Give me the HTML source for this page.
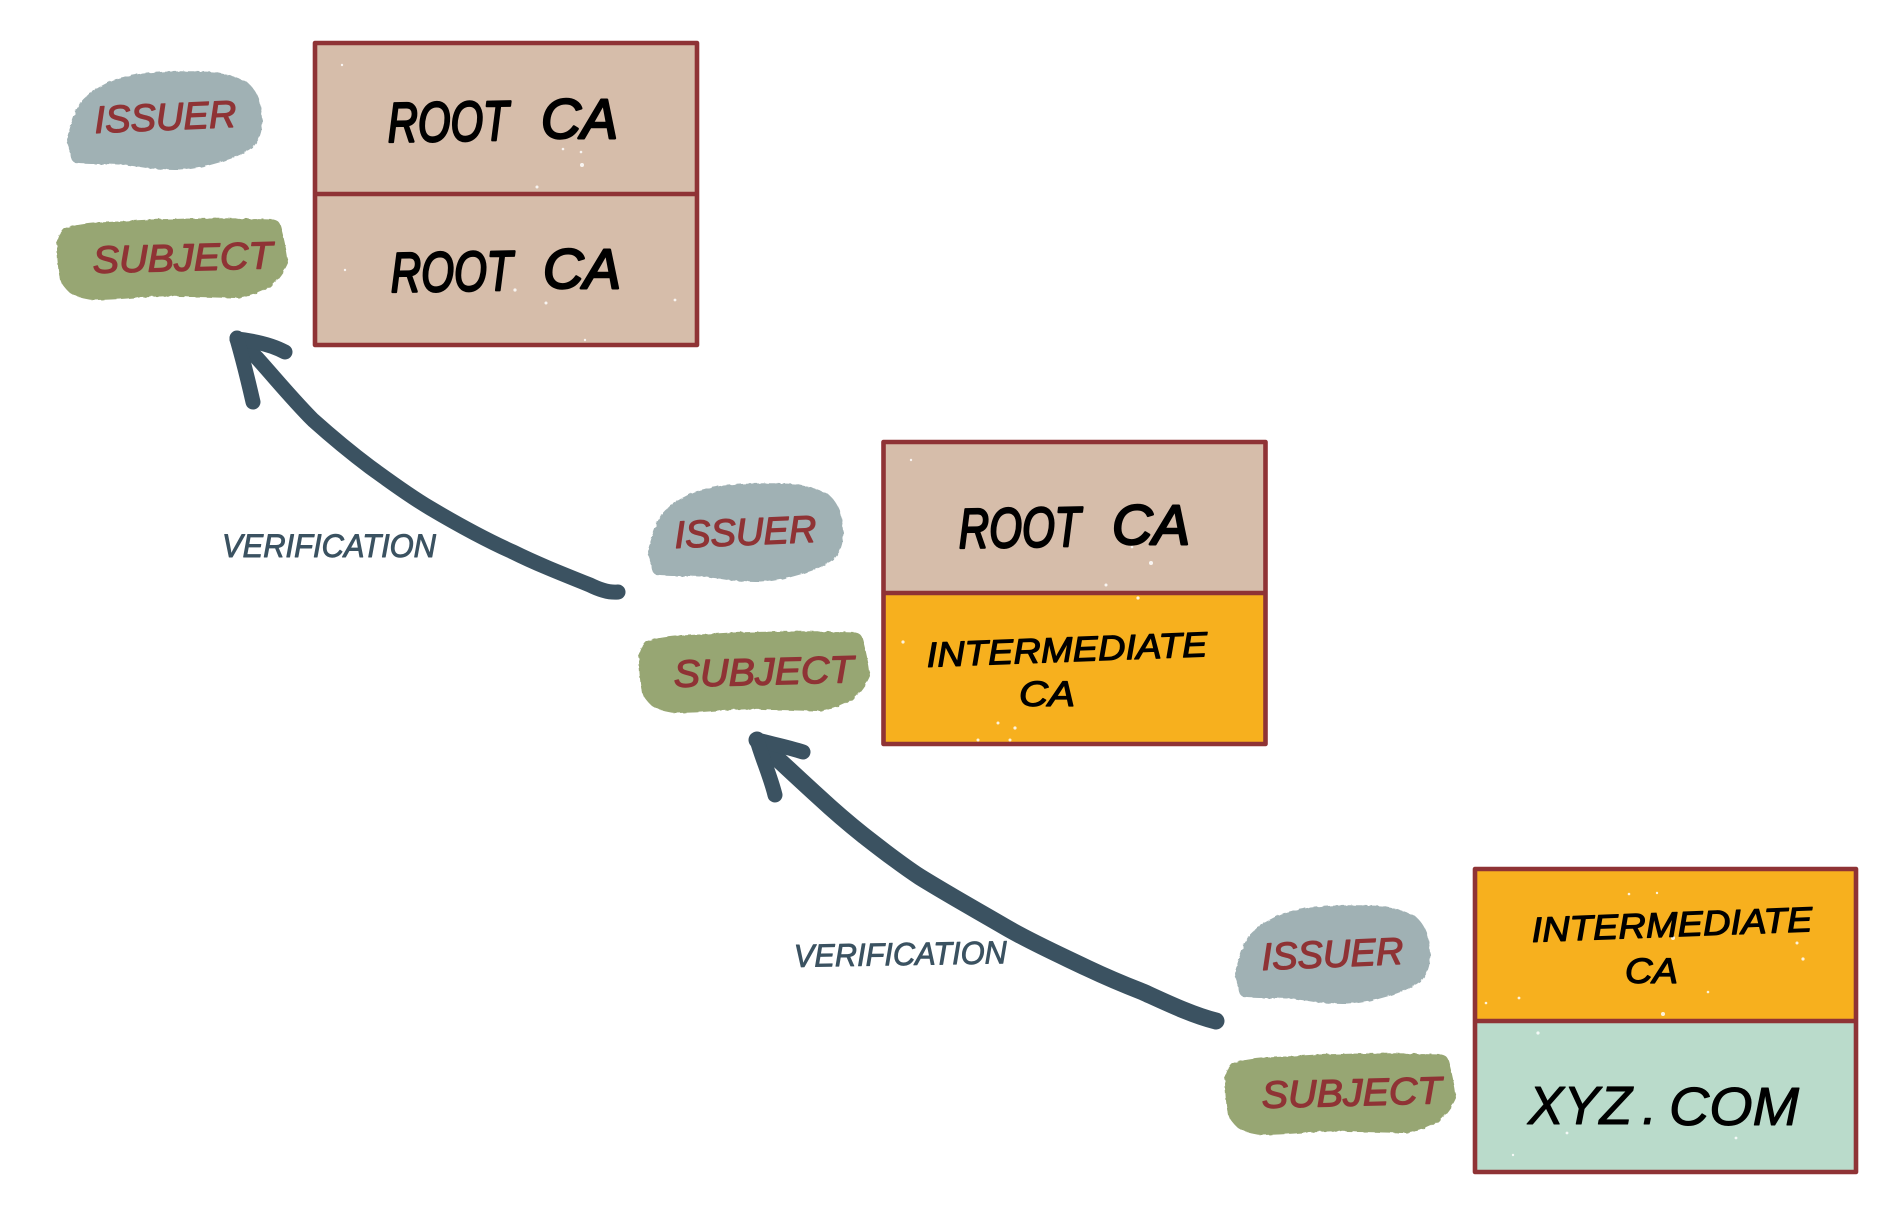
<!DOCTYPE html>
<html>
<head>
<meta charset="utf-8">
<title>Certificate chain verification</title>
<style>
html,body{margin:0;padding:0;background:#fff;}
svg{display:block;}
text{font-family:"Liberation Sans",sans-serif;font-style:italic;stroke-linejoin:round;stroke-linecap:round;}
.blk{fill:#000;stroke:#000;stroke-width:2.4;}
.sm{fill:#000;stroke:#000;stroke-width:1.2;font-size:35px;}
.red{fill:#8f3335;stroke:#8f3335;stroke-width:1.3;font-size:38px;}
.ver{fill:#3b5261;stroke:#3b5261;stroke-width:.9;font-size:32px;}
.box{fill:none;stroke:#8f3335;stroke-width:4.6;stroke-linejoin:round;}
.arr{fill:none;stroke:#3b5261;stroke-linecap:round;stroke-linejoin:round;}
</style>
</head>
<body>
<svg xmlns="http://www.w3.org/2000/svg" width="1901" height="1229" viewBox="0 0 1901 1229">
<defs>
<filter id="rough" x="-5%" y="-5%" width="110%" height="110%">
<feTurbulence type="fractalNoise" baseFrequency="0.18" numOctaves="2" seed="4"/>
<feDisplacementMap in="SourceGraphic" scale="3"/>
</filter>
<path id="iss" fill="#a0b1b4" filter="url(#rough)" d="M67 138C71 124 74 113 80 103C88 93 100 86 113 80C128 75 143 73 160 72C178 71 196 71 213 72C226 74 238 77 247 82C254 88 258 95 260 103C262 111 262 119 262 127C261 135 258 142 253 147C245 153 236 157 227 160C212 165 196 169 180 170C166 170 153 169 140 167C128 165 116 164 103 164C92 164 83 164 75 163C71 160 70 157 70 153C68 148 67 143 67 138Z"/>
<path id="sub" fill="#97a673" filter="url(#rough)" d="M57 247C57 239 60 232 65 228C78 224 92 223 107 222C128 221 150 219 173 219C206 218 240 218 273 219C278 220 280 223 281 227C284 239 287 251 288 263C284 272 278 280 270 287C261 292 251 296 240 298C223 298 207 297 190 297C176 296 163 296 150 297C131 298 112 300 93 300C84 299 76 297 70 293C65 288 62 285 60 280C58 269 57 258 57 247Z"/>
</defs>
<rect width="1901" height="1229" fill="#fff"/>

<!-- Box 1 -->
<rect x="315" y="43" width="382" height="151" fill="#d6bdaa"/>
<rect x="315" y="194" width="382" height="151" fill="#d6bdaa"/>
<g fill="#fff" opacity=".85"><circle cx="582" cy="165" r="2"/><circle cx="563" cy="149" r="1.3"/><circle cx="581" cy="152" r="1.3"/><circle cx="537" cy="187" r="1.5"/><circle cx="342" cy="65" r="1.2"/><circle cx="515" cy="290" r="1.6"/><circle cx="546" cy="303" r="1.5"/><circle cx="675" cy="300" r="1.4"/><circle cx="345" cy="270" r="1.2"/><circle cx="585" cy="340" r="1.2"/></g>
<rect class="box" x="315" y="43" width="382" height="302"/>
<line x1="315" y1="194" x2="697" y2="194" stroke="#8f3335" stroke-width="4.6"/>

<!-- Box 2 -->
<rect x="883.5" y="442" width="382" height="151" fill="#d6bdaa"/>
<rect x="883.5" y="593" width="382" height="151" fill="#f7b01e"/>
<g fill="#fff" opacity=".85"><circle cx="1151" cy="563" r="2"/><circle cx="1132" cy="547" r="1.3"/><circle cx="1106" cy="585" r="1.5"/><circle cx="911" cy="460" r="1.2"/><circle cx="903" cy="642" r="1.6"/><circle cx="1015" cy="728" r="1.6"/><circle cx="998" cy="723" r="1.5"/><circle cx="978" cy="740" r="1.5"/><circle cx="1010" cy="740" r="1.5"/><circle cx="1138" cy="598" r="1.6"/></g>
<rect class="box" x="883.5" y="442" width="382" height="302"/>
<line x1="883.5" y1="593" x2="1265.5" y2="593" stroke="#8f3335" stroke-width="4.6"/>

<!-- Box 3 -->
<rect x="1475" y="869" width="381" height="152" fill="#f7b01e"/>
<rect x="1475" y="1021" width="381" height="151" fill="#badbcb"/>
<g fill="#fff" opacity=".85"><circle cx="1673" cy="938" r="2"/><circle cx="1663" cy="1014" r="2"/><circle cx="1519" cy="998" r="1.4"/><circle cx="1486" cy="1003" r="1.3"/><circle cx="1803" cy="959" r="1.6"/><circle cx="1797" cy="943" r="1.5"/><circle cx="1708" cy="992" r="1.3"/><circle cx="1629" cy="894" r="1.3"/><circle cx="1657" cy="893" r="1.2"/><circle cx="1538" cy="1033" r="1.6"/><circle cx="1736" cy="1138" r="1.4"/><circle cx="1567" cy="1133" r="1.4"/><circle cx="1513" cy="1155" r="1.2"/></g>
<rect class="box" x="1475" y="869" width="381" height="303"/>
<line x1="1475" y1="1021" x2="1856" y2="1021" stroke="#8f3335" stroke-width="4.6"/>

<!-- Blobs -->
<use href="#iss"/>
<use href="#sub"/>
<use href="#iss" x="581" y="412"/>
<use href="#sub" x="582" y="413"/>
<use href="#iss" x="1168" y="834"/>
<use href="#sub" x="1168" y="835"/>

<!-- Arrows -->
<path class="arr" stroke-width="15" d="M618 592C608 593 598 589 590 585C560 573 535 563 513 552C484 539 457 524 430 508C408 495 388 480 370 467C350 452 332 437 313 420C293 400 275 378 257 358L237 338"/>
<path class="arr" stroke-width="15" d="M237 339C255 341 272 345 285 352"/>
<path class="arr" stroke-width="15" d="M237 339C243 360 248 380 253 402"/>
<path class="arr" stroke-width="17" d="M1216 1021C1192 1015 1165 1002 1143 992C1125 985 1106 977 1087 968C1060 955 1033 943 1007 928C978 911 949 895 920 877C900 864 881 849 863 835C848 823 834 811 820 798C799 779 778 759 757 740"/>
<path class="arr" stroke-width="15" d="M757 740C772 744 788 747 803 752"/>
<path class="arr" stroke-width="15" d="M757 740C762 758 770 775 775 795"/>

<!-- Labels -->
<g class="blk" font-size="56">
<text x="388" y="142" textLength="121" lengthAdjust="spacingAndGlyphs" transform="rotate(-1 388 142)">ROOT</text>
<text x="541" y="138" textLength="77" lengthAdjust="spacingAndGlyphs">CA</text>
<text x="391" y="292" textLength="122" lengthAdjust="spacingAndGlyphs" transform="rotate(-1 391 292)">ROOT</text>
<text x="543" y="288" textLength="78" lengthAdjust="spacingAndGlyphs">CA</text>
<text x="959" y="548" textLength="122" lengthAdjust="spacingAndGlyphs" transform="rotate(-1 959 548)">ROOT</text>
<text x="1112" y="544" textLength="78" lengthAdjust="spacingAndGlyphs">CA</text>
</g>

<text class="sm" x="927" y="667" textLength="281" lengthAdjust="spacingAndGlyphs" transform="rotate(-2.2 927 667)">INTERMEDIATE</text>
<text class="sm" x="1019" y="706" textLength="56" lengthAdjust="spacingAndGlyphs">CA</text>
<text class="sm" x="1532" y="942" textLength="281" lengthAdjust="spacingAndGlyphs" transform="rotate(-2.2 1532 942)">INTERMEDIATE</text>
<text class="sm" x="1625" y="983" textLength="53" lengthAdjust="spacingAndGlyphs">CA</text>

<g class="blk" style="stroke-width:1" font-size="54">
<text x="1528" y="1124" textLength="104" lengthAdjust="spacingAndGlyphs">XYZ</text>
<text x="1642" y="1124">.</text>
<text x="1669" y="1125" textLength="130" lengthAdjust="spacingAndGlyphs">COM</text>
</g>

<text class="red" x="95" y="133" textLength="142" lengthAdjust="spacingAndGlyphs" transform="rotate(-2.5 95 133)">ISSUER</text>
<text class="red" x="93" y="273" textLength="180" lengthAdjust="spacingAndGlyphs" transform="rotate(-1.5 93 273)">SUBJECT</text>
<text class="red" x="675" y="548" textLength="142" lengthAdjust="spacingAndGlyphs" transform="rotate(-2.5 675 548)">ISSUER</text>
<text class="red" x="674" y="687" textLength="180" lengthAdjust="spacingAndGlyphs" transform="rotate(-1.5 674 687)">SUBJECT</text>
<text class="red" x="1262" y="970" textLength="142" lengthAdjust="spacingAndGlyphs" transform="rotate(-2.5 1262 970)">ISSUER</text>
<text class="red" x="1262" y="1108" textLength="180" lengthAdjust="spacingAndGlyphs" transform="rotate(-1.5 1262 1108)">SUBJECT</text>

<text class="ver" x="222" y="557" textLength="214" lengthAdjust="spacingAndGlyphs">VERIFICATION</text>
<text class="ver" x="794" y="967" textLength="213" lengthAdjust="spacingAndGlyphs" transform="rotate(-1 794 967)">VERIFICATION</text>
</svg>
</body>
</html>
